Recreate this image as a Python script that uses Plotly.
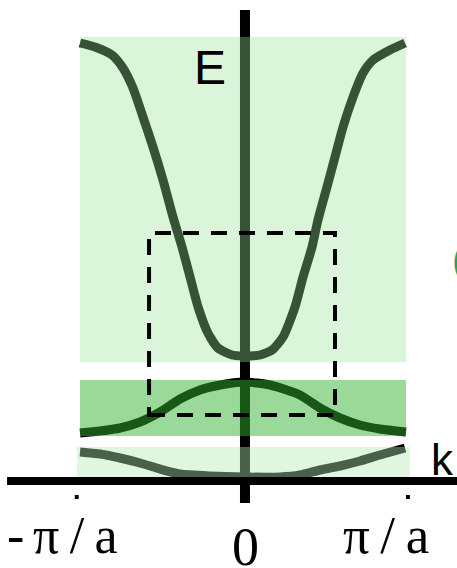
import plotly.graph_objects as go

# ---- data (k in units of pi/a, E in arbitrary energy units) ----
upper_k = [-1.000, -0.909, -0.805, -0.738, -0.677, -0.616, -0.555, -0.494, -0.433, -0.378,
           -0.329, -0.280, -0.220, -0.159, -0.073, 0.000, 0.037, 0.098, 0.171, 0.238,
           0.311, 0.360, 0.415, 0.451, 0.506, 0.555, 0.604, 0.665, 0.726, 0.787, 0.890, 0.982]
upper_E = [4.38, 4.34, 4.26, 4.13, 3.93, 3.64, 3.34, 3.01, 2.64, 2.34,
           2.04, 1.74, 1.48, 1.33, 1.26, 1.25, 1.25, 1.26, 1.31, 1.44,
           1.74, 2.04, 2.34, 2.61, 2.94, 3.24, 3.54, 3.84, 4.08, 4.21, 4.31, 4.38]

middle_k = [-1.000, -0.878, -0.756, -0.634, -0.512, -0.390, -0.268, -0.146, 0.000,
            0.159, 0.341, 0.463, 0.585, 0.707, 0.829, 0.988]
middle_E = [0.48, 0.50, 0.53, 0.59, 0.69, 0.82, 0.91, 0.96, 0.99,
            0.96, 0.86, 0.73, 0.63, 0.56, 0.52, 0.49]

lower_k = [-1.000, -0.878, -0.756, -0.634, -0.512, -0.390, -0.207, 0.000, 0.220,
           0.341, 0.463, 0.585, 0.707, 0.829, 0.982]
lower_E = [0.29, 0.27, 0.23, 0.18, 0.12, 0.07, 0.05, 0.04, 0.04,
           0.06, 0.11, 0.15, 0.20, 0.26, 0.33]

# allowed energy bands: (k_min, k_max, E_min, E_max)
bands = [(-1.000, 0.988, 1.19, 4.44),
         (-1.000, 0.988, 0.45, 1.01),
         (-1.018, 1.012, 0.01, 0.34)]
band_colors = ["rgba(152,227,152,0.36)", "rgba(51,177,51,0.49)", "rgba(183,232,183,0.41)"]

zoom_box_k = [-0.579, 0.555]
zoom_box_E = [0.66, 2.48]

tick_k = [-1, 0, 1]
tick_labels = ["-\u2006π\u2009/\u2009a", "0", "π\u2009/\u2009a"]

fig = go.Figure()

# curves (drawn dark; tinted by the translucent band overlays above them)
for kk, ee in [(upper_k, upper_E), (middle_k, middle_E), (lower_k, lower_E)]:
    fig.add_trace(go.Scatter(x=kk, y=ee, mode="lines",
                             line=dict(color="black", width=9, shape="spline", smoothing=0.6),
                             hoverinfo="skip"))

shapes = []
# vertical E axis (under the overlays)
shapes.append(dict(type="line", xref="x", yref="y", x0=0.006, x1=0.006, y0=-0.22, y1=4.71,
                   line=dict(color="black", width=10), layer="below"))
# translucent band overlays
for (k0, k1, e0, e1), c in zip(bands, band_colors):
    shapes.append(dict(type="rect", xref="x", yref="y", x0=k0, x1=k1, y0=e0, y1=e1,
                       fillcolor=c, line=dict(width=0), layer="above"))
# dashed box
shapes.append(dict(type="rect", xref="x", yref="y", x0=zoom_box_k[0], x1=zoom_box_k[1],
                   y0=zoom_box_E[0], y1=zoom_box_E[1],
                   line=dict(color="black", width=4, dash="16px,12px"), layer="above"))
# horizontal k axis
shapes.append(dict(type="line", xref="x", yref="y", x0=-1.445, x1=1.35, y0=0, y1=0,
                   line=dict(color="black", width=8), layer="above"))
# small tick marks at +-pi/a
for t, dx in ((tick_k[0], -0.02), (tick_k[2], 0.0)):
    shapes.append(dict(type="rect", xref="x", yref="y", x0=t + dx - 0.012, x1=t + dx + 0.012,
                       y0=-0.18, y1=-0.14, fillcolor="black", line=dict(width=0), layer="above"))
fig.update_layout(shapes=shapes)

serif = "Liberation Serif, Times New Roman, serif"
sans = "Liberation Sans, Arial, sans-serif"
ann = []
ann.append(dict(x=tick_k[0], y=-0.54, xref="x", yref="y", text=tick_labels[0], showarrow=False,
                xshift=-18, font=dict(family=serif, size=52, color="black")))
ann.append(dict(x=tick_k[1], y=-0.66, xref="x", yref="y", text=tick_labels[1], showarrow=False,
                xshift=1, font=dict(family=serif, size=54, color="black")))
ann.append(dict(x=tick_k[2], y=-0.54, xref="x", yref="y", text=tick_labels[2], showarrow=False,
                xshift=-22, font=dict(family=serif, size=53, color="black")))
ann.append(dict(x=-0.207, y=4.14, xref="x", yref="y", text="E", showarrow=False,
                font=dict(family=sans, size=48, color="black")))
ann.append(dict(x=1.21, y=0.22, xref="x", yref="y", text="k", showarrow=False,
                font=dict(family=sans, size=44, color="black")))
ann.append(dict(x=1.256, y=2.21, xref="x", yref="y", text="(", showarrow=False, xanchor="left",
                font=dict(family=sans, size=40, color="rgb(40,160,110)")))
fig.update_layout(annotations=ann)

fig.update_layout(
    width=457, height=568,
    margin=dict(l=0, r=0, t=0, b=0),
    paper_bgcolor="white", plot_bgcolor="white",
    showlegend=False,
    xaxis=dict(range=[-1.488, 1.299], visible=False, fixedrange=True),
    yaxis=dict(range=[-0.87, 4.81], visible=False, fixedrange=True),
)

fig.write_html("out.html", config={"displayModeBar": False, "staticPlot": True},
               post_script="document.body.style.margin='0';document.documentElement.style.overflow='hidden';document.body.style.overflow='hidden';")
